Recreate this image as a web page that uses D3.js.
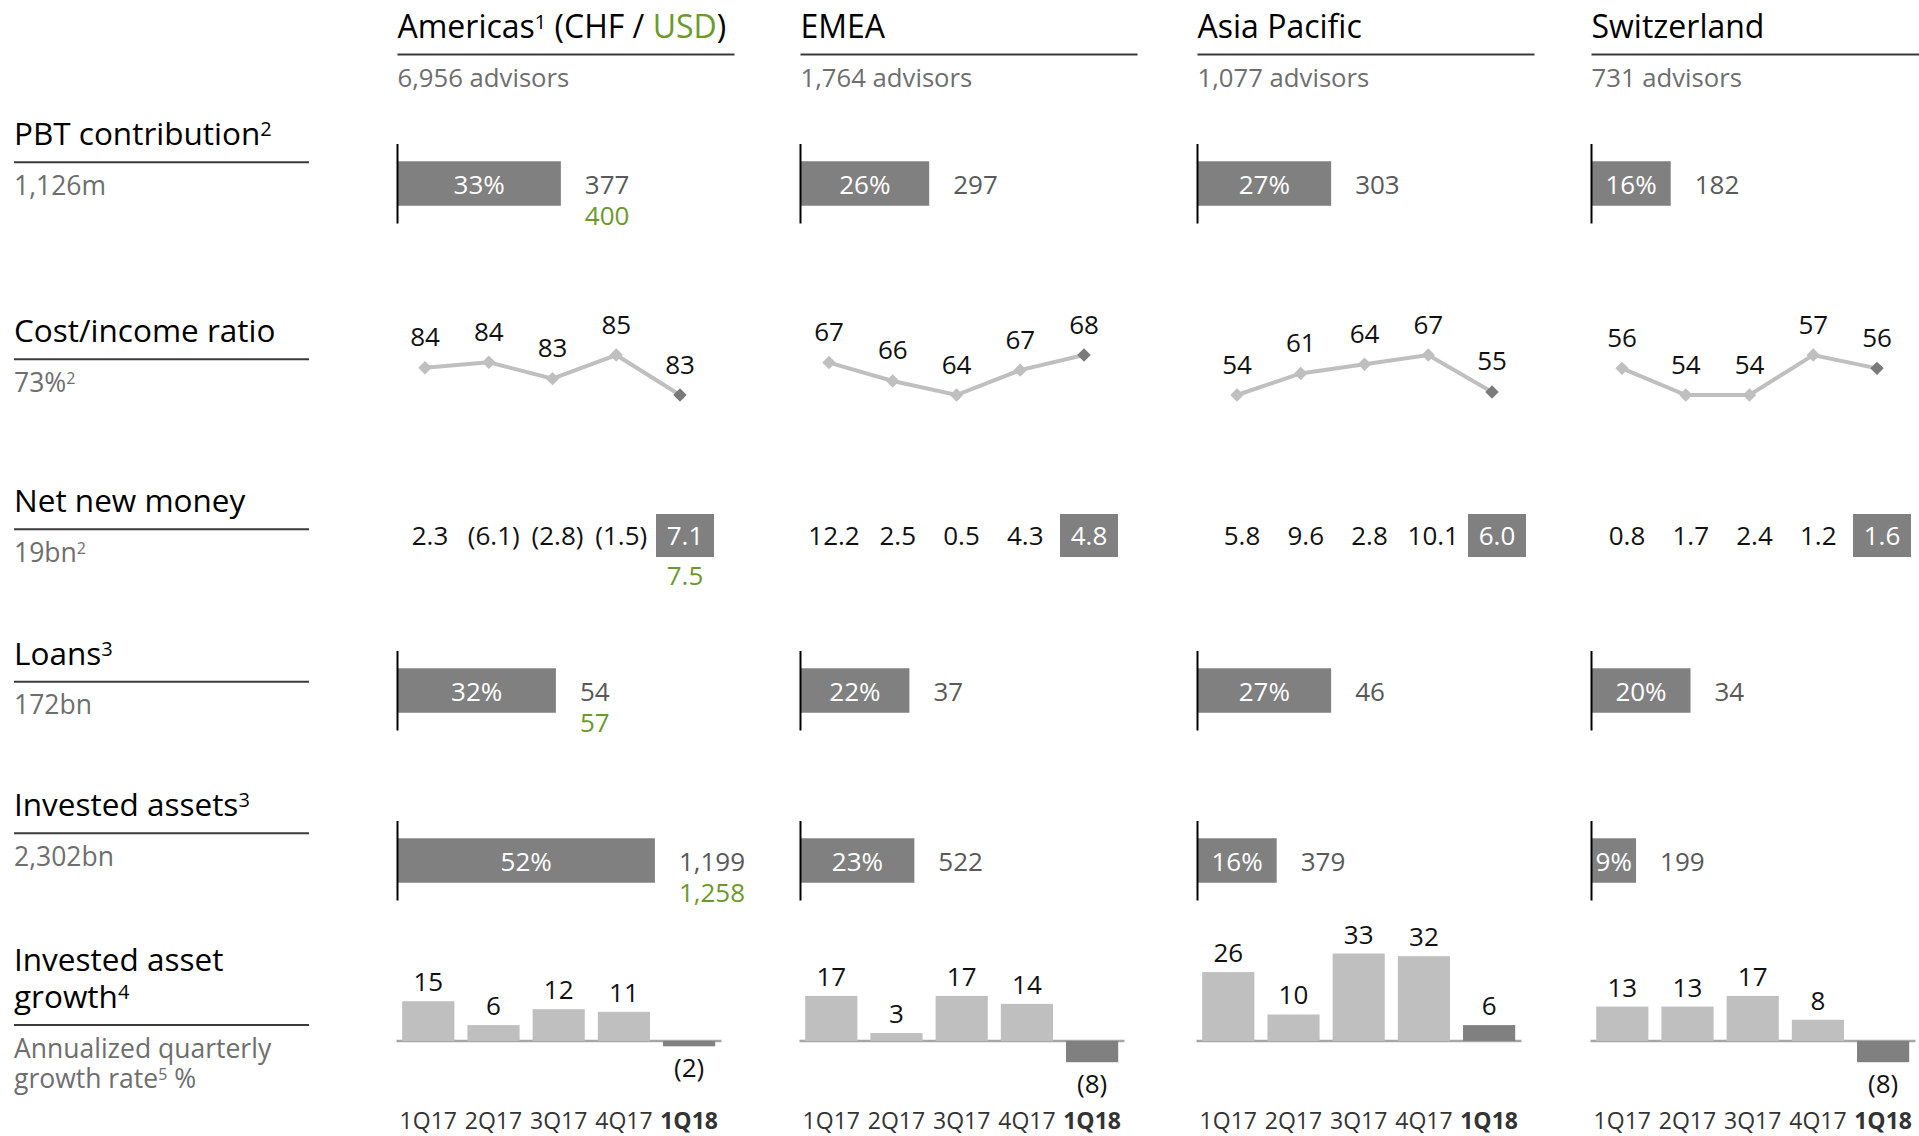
<!DOCTYPE html>
<html lang="en">
<head>
<meta charset="UTF-8">
<title>Regional overview</title>
<script src="https://cdn.jsdelivr.net/npm/d3@7"></script>
<style>
  body { margin: 0; background: #fff; }
  svg { display: block; font-family: "Open Sans", "Noto Sans", sans-serif; }
</style>
</head>
<body>
<script>
// ---- data ----
const regions = ["Americas", "EMEA", "Asia Pacific", "Switzerland"];
const regionNotes = ["1", "", "", ""];
const advisors = [6956, 1764, 1077, 731];
const quarters = ["1Q17", "2Q17", "3Q17", "4Q17", "1Q18"];

const pbtShare = [33, 26, 27, 16];
const pbtChf = [377, 297, 303, 182];
const pbtUsd = [400, null, null, null];

// cost/income ratio %, labels are rounded
const costIncome = [
  [84.0, 84.3, 83.4, 84.7, 82.5],
  [67.4, 65.7, 64.4, 66.7, 68.1],
  [54, 61, 64, 67, 55],
  [56, 54, 54, 57, 56]
];

const nnm = [
  [2.3, -6.1, -2.8, -1.5, 7.1],
  [12.2, 2.5, 0.5, 4.3, 4.8],
  [5.8, 9.6, 2.8, 10.1, 6.0],
  [0.8, 1.7, 2.4, 1.2, 1.6]
];
const nnmUsd = [7.5, null, null, null];

const loanShare = [32, 22, 27, 20];
const loanChf = [54, 37, 46, 34];
const loanUsd = [57, null, null, null];

const iaShare = [52, 23, 16, 9];
const iaChf = [1199, 522, 379, 199];
const iaUsd = [1258, null, null, null];

const iaGrowth = [
  [15, 6, 12, 11, -2],
  [17, 3, 17, 14, -8],
  [26, 10, 33, 32, 6],
  [13, 13, 17, 8, -8]
];

const rowTitles = ["PBT contribution^2", "Cost/income ratio", "Net new money", "Loans^3", "Invested assets^3", "Invested asset|growth^4"];
const rowSubs = ["1,126m", "73%^2", "19bn^2", "172bn", "2,302bn", "Annualized quarterly|growth rate^5 %"];

// ---- layout ----
const width = 1919, height = 1136;
const green = "#6b9a2b", dark = "#808080", light = "#bfbfbf", grey = "#6e6e6e";
const rowRules = [162.3, 359.3, 529.3, 681.7, 833.3, 1025];

const colX = d3.scaleOrdinal().domain(regions).range([397.5, 800.5, 1197.5, 1591.5]);
const trendX = d3.scaleOrdinal().domain(regions).range([425, 829, 1237, 1622]);
const shareX = d3.scaleLinear().domain([0, 100]).range([0, 495]);
const qX = d3.scalePoint().domain(quarters).range([0, 255]);
const gX = d3.scaleBand().domain(quarters).range([4.7, 317.7]).paddingInner(0.2);
const gY = d3.scaleLinear().domain([0, 33]).range([1041, 1041 - 87.5]);
const ciY = d3.scaleLinear().range([395, 355]);

const fmtInt = d3.format(",");
const fmt1 = d3.format(".1f");
const paren = (v, f) => v < 0 ? "(" + f(-v) + ")" : f(v);

const svg = d3.select("body").append("svg")
    .attr("width", width)
    .attr("height", height);

function parts(str) {
  return str.split(/\^(\d)/).map((t, k) => ({t: t, sup: k % 2 === 1})).filter(p => p.t);
}

function addText(x, y, ps, size, fill, anchor) {
  const t = svg.append("text")
      .attr("x", x).attr("y", y)
      .attr("font-size", size)
      .attr("fill", fill)
      .attr("text-anchor", anchor || "start");
  let raised = false;
  ps.forEach(p => {
    const s = t.append("tspan").text(p.t);
    if (p.sup) s.attr("font-size", Math.round(size * 0.62));
    if (!!p.sup !== raised) {
      s.attr("dy", p.sup ? -size * 0.29 : size * 0.29);
      raised = !!p.sup;
    }
    if (p.fill) s.attr("fill", p.fill);
  });
  return t;
}

function rule(x1, x2, y, color, w) {
  svg.append("line")
      .attr("x1", x1).attr("x2", x2)
      .attr("y1", y).attr("y2", y)
      .attr("stroke", color)
      .attr("stroke-width", w || 2);
}

// ---- column headers ----
regions.forEach((r, i) => {
  const x = colX(r);
  let ps = parts(r + (regionNotes[i] ? "^" + regionNotes[i] : ""));
  if (pbtUsd[i] != null) {
    ps = ps.concat([{t: " (CHF / "}, {t: "USD", fill: green}, {t: ")"}]);
  }
  addText(x, 38, ps, 32, "#000");
  rule(x, x + 337, 54.5, "#3a3a3a");
  addText(x, 87, [{t: fmtInt(advisors[i]) + " advisors"}], 25.7, grey);
});

// ---- row labels ----
rowTitles.forEach((title, i) => {
  const y = rowRules[i];
  const lines = title.split("|");
  lines.forEach((ln, k) => {
    addText(14, y - 17 - (lines.length - 1 - k) * 37, parts(ln), 31.5, "#000");
  });
  rule(14, 309, y, "#3a3a3a");
  rowSubs[i].split("|").forEach((ln, k) => {
    addText(14, y + 32.5 + k * 30, parts(ln), 26.5, grey);
  });
});

// ---- share bars (PBT, loans, invested assets) ----
function shareRow(cy, share, chf, usd) {
  regions.forEach((r, i) => {
    const x0 = colX(r);
    const w = shareX(share[i]);
    svg.append("rect")
        .attr("x", x0).attr("y", cy - 22.25)
        .attr("width", w).attr("height", 44.5)
        .attr("fill", dark);
    svg.append("line")
        .attr("x1", x0).attr("x2", x0)
        .attr("y1", cy - 39.5).attr("y2", cy + 40)
        .attr("stroke", "#000").attr("stroke-width", 2);
    addText(x0 + w / 2, cy + 10, [{t: share[i] + "%"}], 26, "#fff", "middle");
    addText(x0 + w + 24, cy + 10.5, [{t: fmtInt(chf[i])}], 26, "#595959");
    if (usd[i] != null) {
      addText(x0 + w + 24, cy + 41, [{t: fmtInt(usd[i])}], 26, green);
    }
  });
}
shareRow(183.5, pbtShare, pbtChf, pbtUsd);
shareRow(690.5, loanShare, loanChf, loanUsd);
shareRow(860.5, iaShare, iaChf, iaUsd);

// ---- cost/income trend ----
const diamond = d3.symbol().type(d3.symbolSquare).size(90);
regions.forEach((r, i) => {
  const vals = costIncome[i];
  const y = ciY.copy().domain(d3.extent(vals));
  const x = j => trendX(r) + qX(quarters[j]);
  svg.append("path")
      .datum(vals)
      .attr("d", d3.line().x((d, j) => x(j)).y(d => y(d)))
      .attr("fill", "none")
      .attr("stroke", light)
      .attr("stroke-width", 4);
  vals.forEach((v, j) => {
    svg.append("path")
        .attr("d", diamond())
        .attr("transform", `translate(${x(j)},${y(v)}) rotate(45)`)
        .attr("fill", j === vals.length - 1 ? "#7a7a7a" : light);
    addText(x(j), y(v) - 21.5, [{t: Math.round(v)}], 26, "#111", "middle");
  });
});

// ---- net new money ----
regions.forEach((r, i) => {
  nnm[i].forEach((v, j) => {
    const cx = trendX(r) + qX(quarters[j]) + 5;
    const last = j === nnm[i].length - 1;
    if (last) {
      svg.append("rect")
          .attr("x", cx - 29).attr("y", 514)
          .attr("width", 58).attr("height", 43)
          .attr("fill", dark);
    }
    addText(cx, 545, [{t: paren(v, fmt1)}], 26, last ? "#fff" : "#111", "middle");
    if (last && nnmUsd[i] != null) {
      addText(cx, 585, [{t: fmt1(nnmUsd[i])}], 26, green, "middle");
    }
  });
});

// ---- invested asset growth ----
regions.forEach((r, i) => {
  const x0 = colX(r);
  rule(x0 - 1, x0 + 324, gY(0), "#a6a6a6", 2.5);
  iaGrowth[i].forEach((v, j) => {
    const q = quarters[j];
    const last = j === quarters.length - 1;
    const top = Math.min(gY(v), gY(0));
    const bottom = Math.max(gY(v), gY(0));
    svg.append("rect")
        .attr("x", x0 + gX(q)).attr("y", top)
        .attr("width", gX.bandwidth())
        .attr("height", bottom - top)
        .attr("fill", last ? dark : light);
    const cx = x0 + gX(q) + gX.bandwidth() / 2;
    addText(cx, v < 0 ? bottom + 31 : top - 10, [{t: paren(v, d3.format("d"))}], 26, "#111", "middle");
    addText(cx, 1129, [{t: q}], 23, "#333", "middle")
        .attr("font-weight", last ? 700 : 400);
  });
});
</script>
</body>
</html>
